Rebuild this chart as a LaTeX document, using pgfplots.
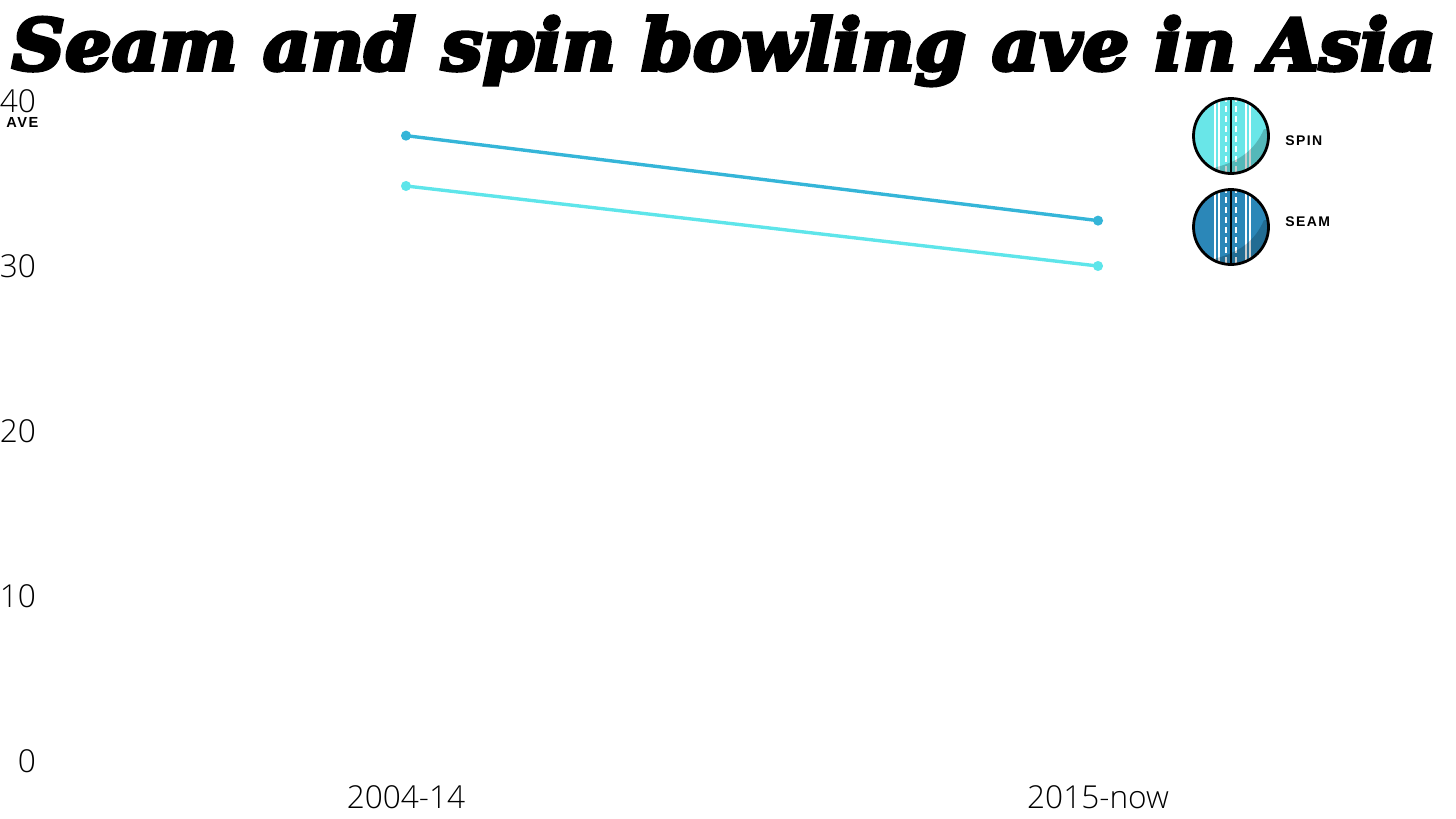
\documentclass[border=0pt]{standalone}
\usepackage{pgfplots}
\pgfplotsset{compat=1.18}
\usepackage{pgfplotstable}
\usepackage{fontspec}
\setmainfont{Open Sans Light}
\newfontfamily\titlefont[FakeBold=5]{DejaVu Serif Bold Italic}
\newfontfamily\smallfont[LetterSpace=10]{Liberation Sans Bold}
\definecolor{seamline}{HTML}{35B5D8}
\definecolor{spinline}{HTML}{5EE5EA}
\definecolor{spinball}{HTML}{69E6E8}
\definecolor{seamball}{HTML}{2B87B8}
\pgfplotstableread{
x seam spin
0 37.9 34.85
1 32.75 30.0
}\avetable
\newcommand{\pitchball}[3]{%
  \begin{scope}[shift={(#1,#2)}]
    \begin{scope}
      \clip (0,0) circle (37);
      \fill[#3] (-40,-40) rectangle (40,40);
      \foreach \xx in {-15.7,-12,15,18.5}{\draw[white,line width=1pt] (\xx,-40) -- (\xx,40);}
      \foreach \xx in {-5.4,5.4}{\draw[white,line width=1pt,dash pattern=on 3pt off 2pt] (\xx,-40) -- (\xx,40);}
      \fill[black,opacity=0.2] (-18,32) .. controls (8,26) and (24,14) .. (33,-7) -- (45,-7) -- (45,45) -- (-18,45) -- cycle;
    \end{scope}
    \draw[black,line width=1.4pt] (0,0) circle (37.5);
    \draw[black,line width=1.2pt] (0,-37.5) -- (0,37.5);
  \end{scope}}
\begin{document}
\begin{tikzpicture}[x=0.5pt,y=-0.5pt]
\path[use as bounding box] (0,0) rectangle (1456,819);
\begin{axis}[
  at={(20pt,-380.5pt)}, anchor=south west,
  scale only axis, width=700pt, height=330pt,
  xmin=-0.5289, xmax=1.4942, ymin=0, ymax=40,
  axis line style={draw=none}, major tick length=0pt,
  xtick={0,1}, xticklabels={2004-14,2015-now},
  ytick={0,10,20,30,40},
  tick label style={font=\fontsize{15.8}{18}\selectfont,text=black},
  /pgf/number format/assume math mode=true,
  xticklabel style={yshift=-9pt},
  yticklabel style={xshift=1.5pt},
  clip=false,
]
\addplot[spinline,line width=1.7pt,mark=*,mark size=1.6pt,mark options={fill=spinline,draw=spinline}] table[x=x,y=spin] {\avetable};
\addplot[seamline,line width=1.7pt,mark=*,mark size=1.6pt,mark options={fill=seamline,draw=seamline}] table[x=x,y=seam] {\avetable};
\end{axis}
\node[anchor=base,inner sep=0pt] at (724,70) {\resizebox{712pt}{27pt}{\titlefont Seam and spin bowling ave in Asia}};
\node[anchor=west,inner sep=0pt] at (6,122) {\fontsize{7.3}{8}\selectfont\smallfont AVE};
\pitchball{1231}{136}{spinball}
\pitchball{1231}{227}{seamball}
\node[anchor=west,inner sep=0pt] at (1285,141) {\fontsize{7}{8}\selectfont\smallfont SPIN};
\node[anchor=west,inner sep=0pt] at (1285,222) {\fontsize{7}{8}\selectfont\smallfont SEAM};
\end{tikzpicture}
\end{document}
